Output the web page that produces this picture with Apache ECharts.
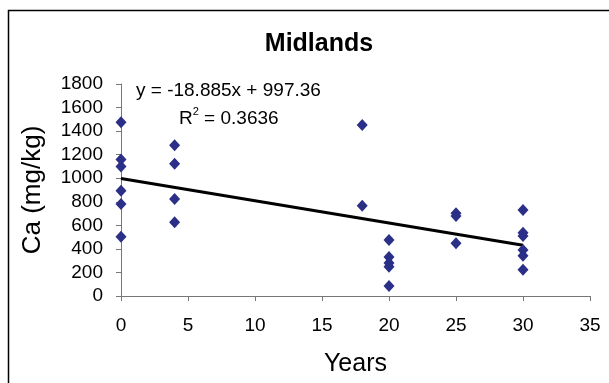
<!DOCTYPE html>
<html>
<head>
<meta charset="utf-8">
<script src="https://cdn.jsdelivr.net/npm/echarts@6/dist/echarts.min.js"></script>
<style>
  html, body { margin: 0; padding: 0; background: #fff; }
  #chart { width: 609px; height: 383px; }
</style>
</head>
<body>
<div id="chart"></div>
<script>
// Calcium measurements by years since treatment, Midlands sites
const years = [0, 0, 0, 0, 0, 0, 4, 4, 4, 4, 18, 18, 20, 20, 20, 20, 20, 25, 25, 25, 30, 30, 30, 30, 30, 30];
const calcium = [1475, 1160, 1100, 894, 781, 503, 1280, 1122, 823, 626, 1452, 767, 475, 331, 280, 249, 85, 702, 679, 447, 730, 537, 509, 390, 342, 223];

// Linear trend fitted to the samples
const trendSlope = -18.885;
const trendIntercept = 997.36;
const trendR2 = 0.3636;
const trendRange = [0, 30];

const xTicks = { min: 0, max: 35, step: 5 };
const yTicks = { min: 0, max: 1800, step: 200 };

const points = years.map((x, i) => [x, calcium[i]]);
const trendPoints = trendRange.map(x => [x, trendSlope * x + trendIntercept]);

const FONT = 'Liberation Sans, Arial, sans-serif';
const axisGray = '#777777';
const plainNumber = v => String(v);

const chart = echarts.init(document.getElementById('chart'), null, { renderer: 'canvas' });
chart.setOption({
  animation: false,
  backgroundColor: '#ffffff',
  title: {
    text: 'Midlands',
    left: 314,
    top: 27,
    textAlign: 'center',
    textStyle: { fontFamily: FONT, fontSize: 25, fontWeight: 'bold', color: '#000' }
  },
  grid: { left: 121, right: 19, top: 84, bottom: 87, containLabel: false, outerBoundsMode: 'none' },
  xAxis: {
    type: 'value',
    min: xTicks.min, max: xTicks.max, interval: xTicks.step,
    name: 'Years',
    nameLocation: 'middle',
    nameGap: 56,
    nameTextStyle: { fontFamily: FONT, fontSize: 25, color: '#000' },
    axisLine: { show: true, lineStyle: { color: axisGray, width: 1 } },
    axisTick: { show: true, inside: false, length: 5, lineStyle: { color: axisGray } },
    axisLabel: { fontFamily: FONT, fontSize: 19, color: '#000', margin: 20, formatter: plainNumber },
    splitLine: { show: false }
  },
  yAxis: {
    type: 'value',
    min: yTicks.min, max: yTicks.max, interval: yTicks.step,
    name: 'Ca (mg/kg)',
    nameLocation: 'middle',
    nameGap: 75,
    nameRotate: 90,
    nameTextStyle: { fontFamily: FONT, fontSize: 26, color: '#000' },
    axisLine: { show: true, lineStyle: { color: axisGray, width: 1 } },
    axisTick: { show: true, inside: false, length: 5, lineStyle: { color: axisGray } },
    axisLabel: { fontFamily: FONT, fontSize: 19, color: '#000', margin: 18, formatter: plainNumber },
    splitLine: { show: false }
  },
  series: [
    {
      type: 'line',
      data: trendPoints,
      symbol: 'none',
      lineStyle: { color: '#000', width: 3 },
      z: 2
    },
    {
      type: 'scatter',
      data: points,
      symbol: 'diamond',
      symbolSize: [11, 12],
      itemStyle: { color: '#2b2f88', opacity: 1 },
      z: 3
    }
  ],
  graphic: [
    {
      type: 'rect',
      shape: { x: 8.5, y: 10.5, width: 700, height: 500 },
      style: { fill: null, stroke: '#000', lineWidth: 1.5 },
      silent: true
    },
    {
      type: 'text',
      left: 136,
      top: 81,
      style: {
        text: 'y = -' + Math.abs(trendSlope).toFixed(3) + 'x + ' + trendIntercept.toFixed(2),
        font: '19px ' + FONT,
        fill: '#000'
      }
    },
    {
      type: 'text',
      left: 179,
      top: 106,
      style: {
        text: '{b|R}{s|2}{b| = ' + trendR2.toFixed(4) + '}',
        fill: '#000',
        rich: {
          b: { fontFamily: FONT, fontSize: 19, color: '#000', verticalAlign: 'bottom', lineHeight: 22 },
          s: { fontFamily: FONT, fontSize: 11, color: '#000', verticalAlign: 'top', lineHeight: 22, padding: [0, 0, 10, 0] }
        }
      }
    }
  ]
});
</script>
</body>
</html>
